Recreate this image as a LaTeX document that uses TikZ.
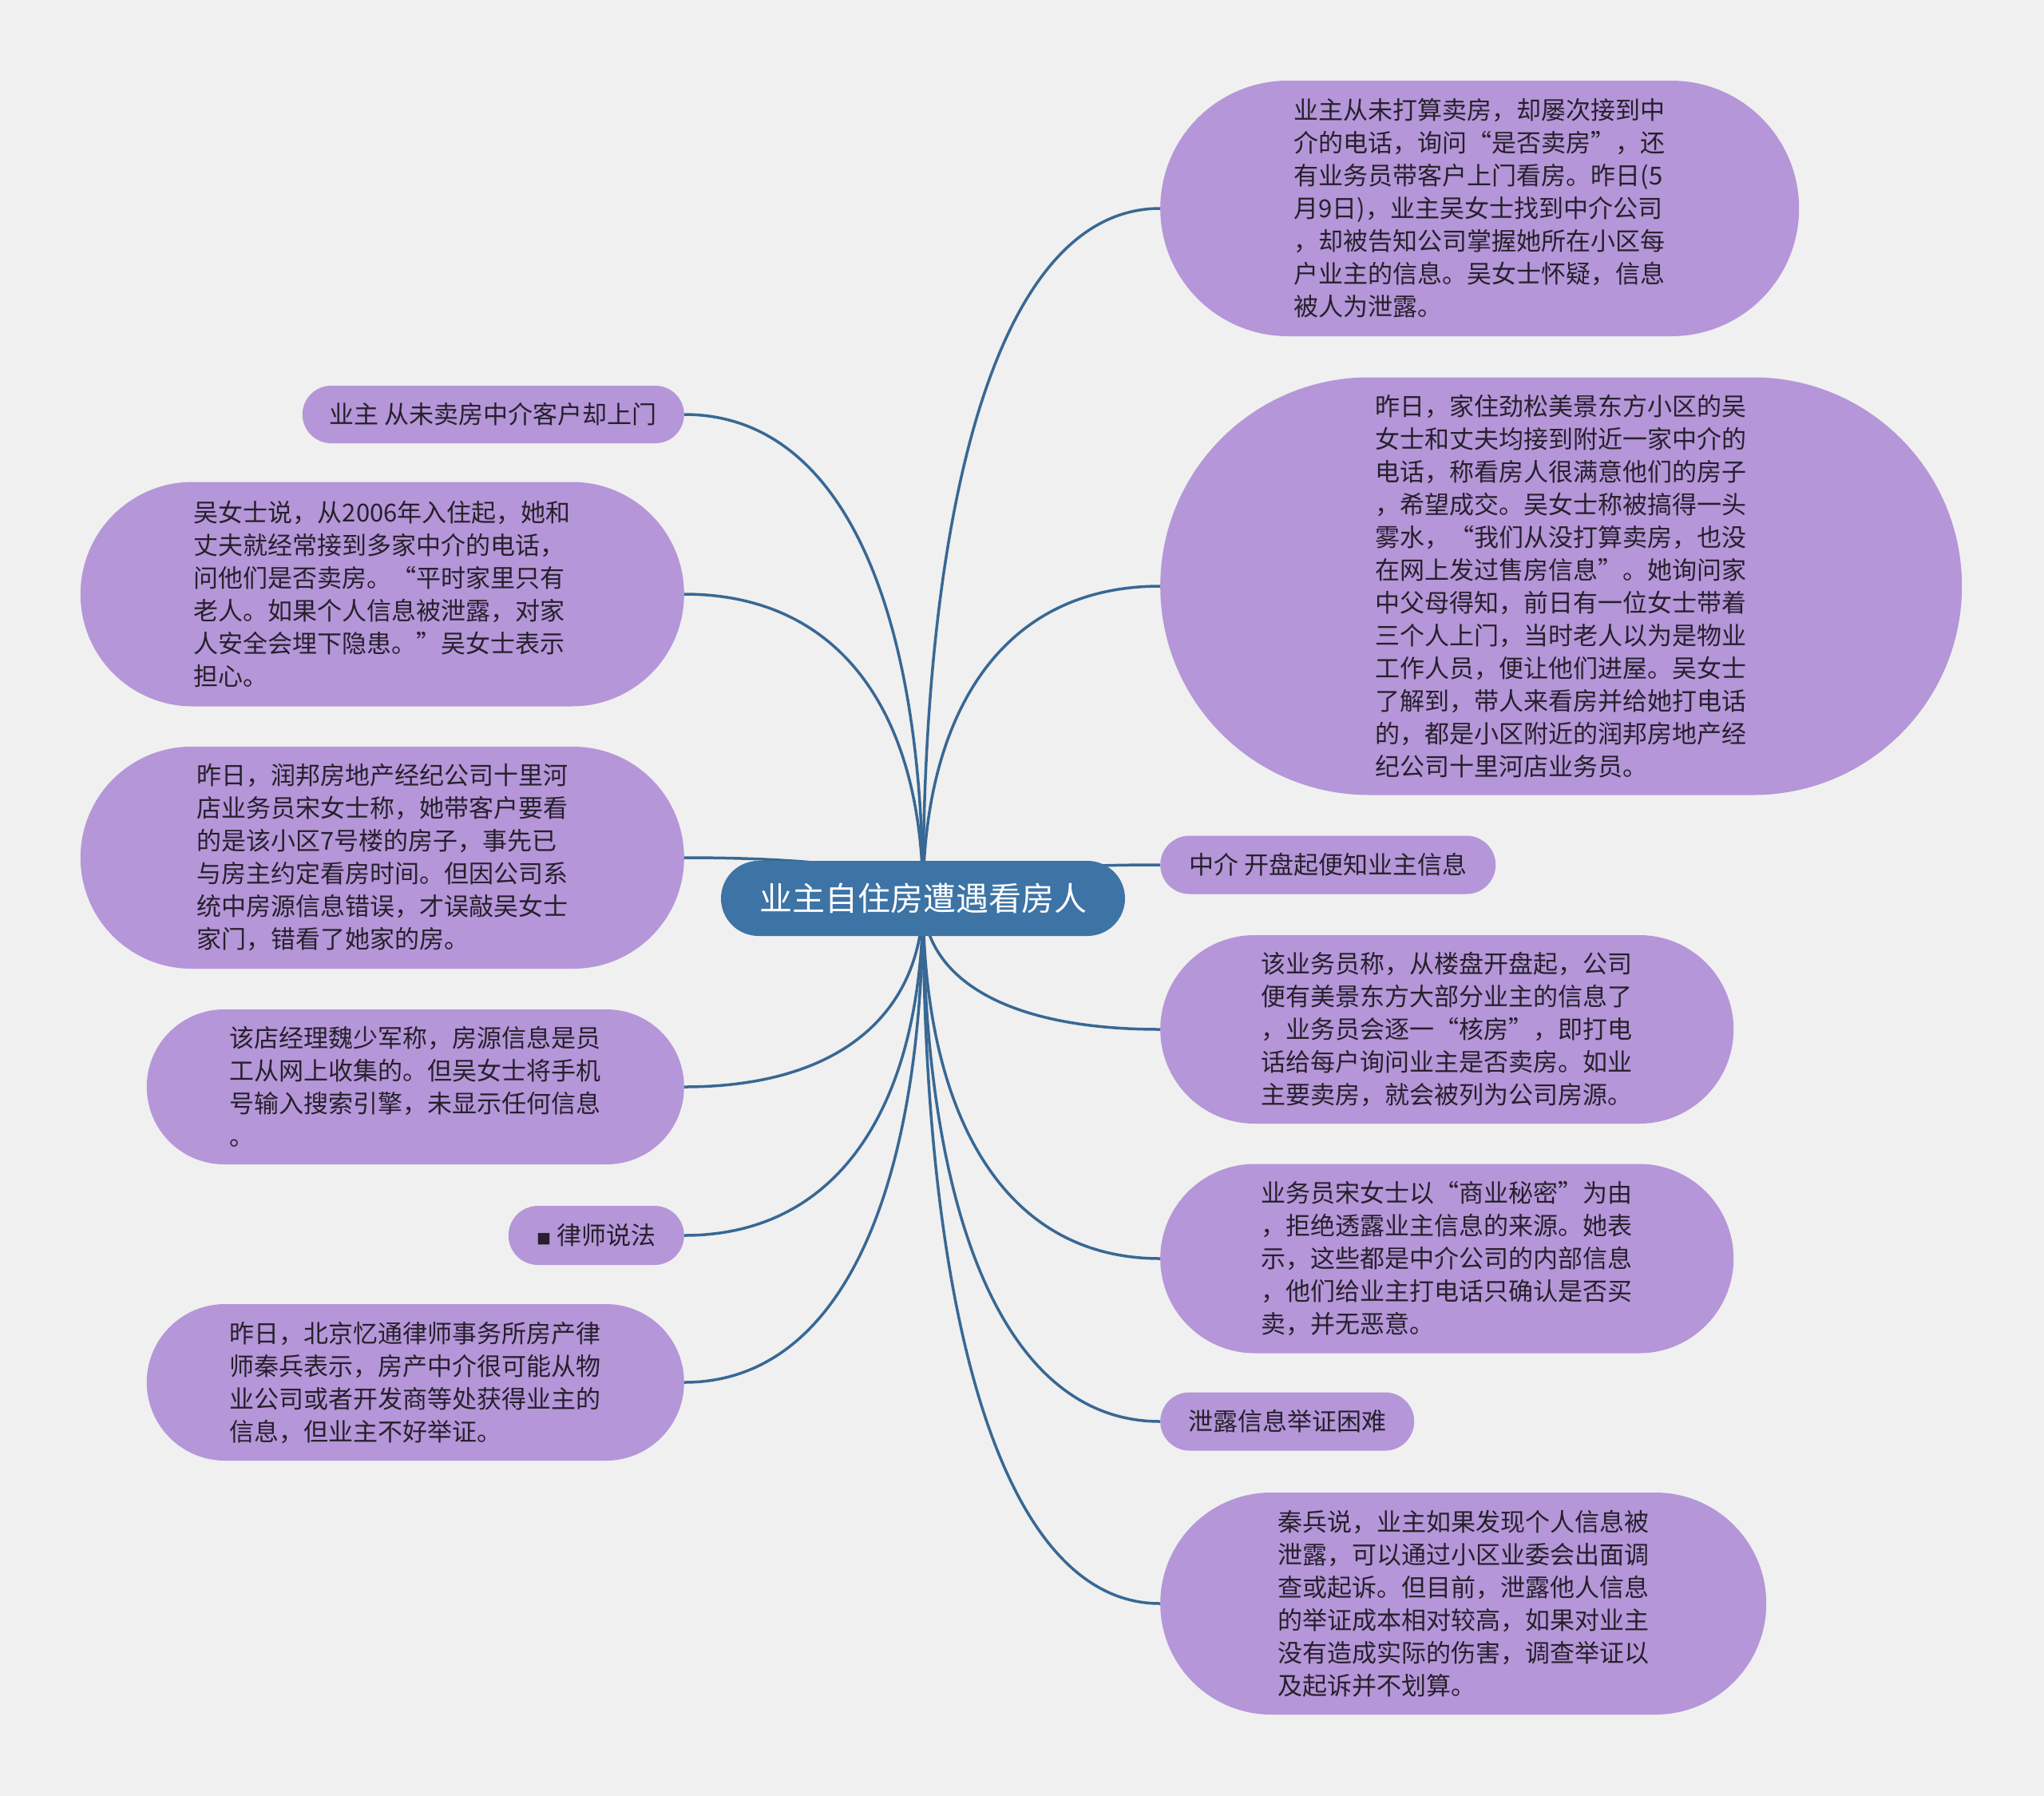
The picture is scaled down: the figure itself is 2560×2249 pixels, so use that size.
\documentclass[tikz,border=0pt]{standalone}
\usepackage{fontspec}
\setmainfont{Noto Sans CJK SC}
\usepackage{tikz}
\usetikzlibrary{positioning,calc,backgrounds,shapes.misc}
\definecolor{canvas}{RGB}{240,240,240}
\definecolor{leafA}{RGB}{181,150,216}
\definecolor{hubA}{RGB}{61,115,165}
\definecolor{linkA}{RGB}{56,104,148}
\definecolor{inkA}{RGB}{38,32,44}

\begin{document}
\begin{tikzpicture}[x=1pt,y=-1pt,
                  font=\fontsize{31}{41}\selectfont,
                  p/.style={rounded rectangle,fill=leafA,text=inkA,align=left,inner xsep=0pt,inner ysep=2pt},
                  hub/.style={rounded rectangle,fill=hubA,text=white,font=\fontsize{41}{41}\selectfont,inner sep=0pt},
                  ln/.style={draw=linkA,line width=3.5pt,
                    to path={.. controls ($(\tikztostart)!0.58!(\tikztostart|-\tikztotarget)$) and ($(\tikztotarget)!0.68!(\tikztostart|-\tikztotarget)$) .. (\tikztotarget)}}
                ]
                \node[hub,minimum width=506pt,minimum height=94pt] (c) at (1156,1125) {业主自住房遭遇看房人};

                \node[p,anchor=west,minimum width=800pt,minimum height=320pt] (r1) at (1453,261) {业主从未打算卖房，却屡次接到中\\介的电话，询问“是否卖房”，还\\有业务员带客户上门看房。昨日(5\\月9日)，业主吴女士找到中介公司\\，却被告知公司掌握她所在小区每\\户业主的信息。吴女士怀疑，信息\\被人为泄露。};
                \node[p,anchor=west,minimum width=1004pt,minimum height=523pt] (r2) at (1453,734) {昨日，家住劲松美景东方小区的吴\\女士和丈夫均接到附近一家中介的\\电话，称看房人很满意他们的房子\\，希望成交。吴女士称被搞得一头\\雾水，“我们从没打算卖房，也没\\在网上发过售房信息”。她询问家\\中父母得知，前日有一位女士带着\\三个人上门，当时老人以为是物业\\工作人员，便让他们进屋。吴女士\\了解到，带人来看房并给她打电话\\的，都是小区附近的润邦房地产经\\纪公司十里河店业务员。};
                \node[p,anchor=west,minimum width=420pt,minimum height=73pt] (r3) at (1453,1083) {中介 开盘起便知业主信息};
                \node[p,anchor=west,minimum width=718pt,minimum height=236pt] (r4) at (1453,1289) {该业务员称，从楼盘开盘起，公司\\便有美景东方大部分业主的信息了\\，业务员会逐一“核房”，即打电\\话给每户询问业主是否卖房。如业\\主要卖房，就会被列为公司房源。};
                \node[p,anchor=west,minimum width=718pt,minimum height=237pt] (r5) at (1453,1576) {业务员宋女士以“商业秘密”为由\\，拒绝透露业主信息的来源。她表\\示，这些都是中介公司的内部信息\\，他们给业主打电话只确认是否买\\卖，并无恶意。};
                \node[p,anchor=west,minimum width=318pt,minimum height=73pt] (r6) at (1453,1780) {泄露信息举证困难};
                \node[p,anchor=west,minimum width=759pt,minimum height=278pt] (r7) at (1453,2008) {秦兵说，业主如果发现个人信息被\\泄露，可以通过小区业委会出面调\\查或起诉。但目前，泄露他人信息\\的举证成本相对较高，如果对业主\\没有造成实际的伤害，调查举证以\\及起诉并不划算。};

                \node[p,anchor=east,minimum width=478pt,minimum height=72pt] (l1) at (857,519) {业主 从未卖房中介客户却上门};
                \node[p,anchor=east,minimum width=756pt,minimum height=281pt] (l2) at (857,744) {吴女士说，从2006年入住起，她和\\丈夫就经常接到多家中介的电话，\\问他们是否卖房。“平时家里只有\\老人。如果个人信息被泄露，对家\\人安全会埋下隐患。”吴女士表示\\担心。};
                \node[p,anchor=east,minimum width=756pt,minimum height=278pt] (l3) at (857,1074) {昨日，润邦房地产经纪公司十里河\\店业务员宋女士称，她带客户要看\\的是该小区7号楼的房子，事先已\\与房主约定看房时间。但因公司系\\统中房源信息错误，才误敲吴女士\\家门，错看了她家的房。};
                \node[p,anchor=east,minimum width=673pt,minimum height=194pt] (l4) at (857,1361) {该店经理魏少军称，房源信息是员\\工从网上收集的。但吴女士将手机\\号输入搜索引擎，未显示任何信息\\。};
                \node[p,anchor=east,minimum width=220pt,minimum height=74pt] (l5) at (857,1547) {{\fontsize{18}{18}\selectfont ■} 律师说法};
                \node[p,anchor=east,minimum width=673pt,minimum height=196pt] (l6) at (857,1731) {昨日，北京忆通律师事务所房产律\\师秦兵表示，房产中介很可能从物\\业公司或者开发商等处获得业主的\\信息，但业主不好举证。};

                \begin{scope}[on background layer]
                \fill[canvas] (0,0) rectangle (2560,2249);
                \draw[ln] (c.center) to (r1.west);
                \draw[ln] (c.center) to (r2.west);
                \draw[ln] (c.center) to (r3.west);
                \draw[ln] (c.center) to (r4.west);
                \draw[ln] (c.center) to (r5.west);
                \draw[ln] (c.center) to (r6.west);
                \draw[ln] (c.center) to (r7.west);
                \draw[ln] (c.center) to (l1.east);
                \draw[ln] (c.center) to (l2.east);
                \draw[ln] (c.center) to (l3.east);
                \draw[ln] (c.center) to (l4.east);
                \draw[ln] (c.center) to (l5.east);
                \draw[ln] (c.center) to (l6.east);
                \end{scope}
                \end{tikzpicture}
\end{document}
